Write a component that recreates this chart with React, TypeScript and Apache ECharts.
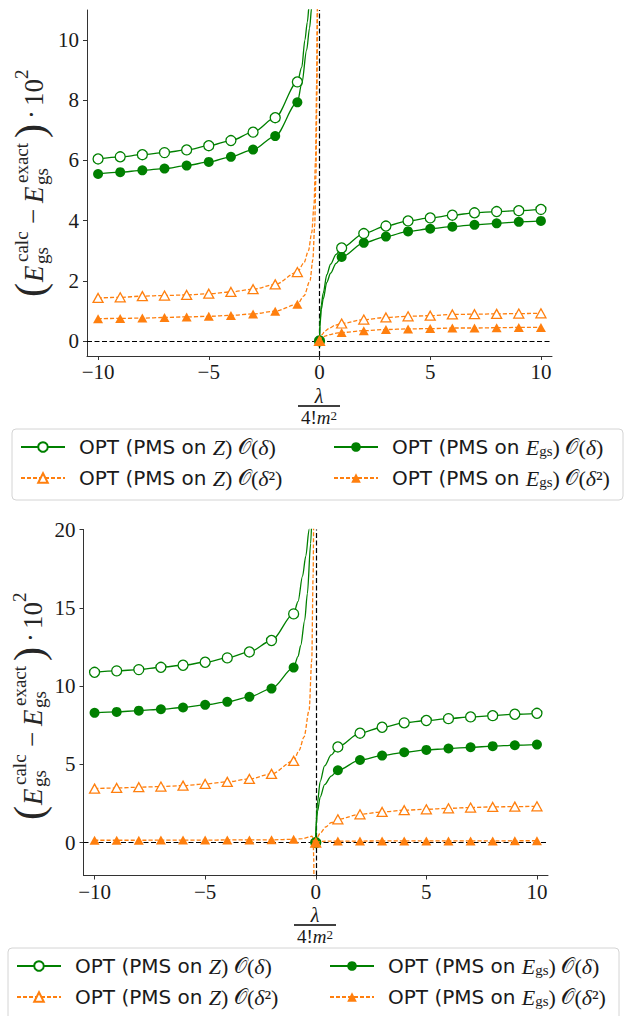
import { useEffect, useRef } from "react";
import * as echarts from "echarts";

const GREEN = "#008000";
const ORANGE = "#ff7f0e";
const INK = "#1a1a1a";
const SERIF = "'Liberation Serif', 'DejaVu Serif', serif";
const SANS = "'DejaVu Sans', 'Noto Sans', sans-serif";

// Series names (also the legend entries)
const NAMES = [
  "OPT (PMS on Z) 𝒪(δ)",
  "OPT (PMS on E_gs) 𝒪(δ)",
  "OPT (PMS on Z) 𝒪(δ²)",
  "OPT (PMS on E_gs) 𝒪(δ²)",
];

// Coupling values λ/(4!m²) where the markers sit
const lambdaNeg = [-10, -9, -8, -7, -6, -5, -4, -3, -2, -1];
const lambdaPos = [1, 2, 3, 4, 5, 6, 7, 8, 9, 10];
const lambdaTicks = [-10, -5, 0, 5, 10];
const topYTicks = [0, 2, 4, 6, 8, 10];
const bottomYTicks = [0, 5, 10, 15, 20];

// ---- upper panel: values at the markers ----
const topZ1Neg = [6.05, 6.12, 6.19, 6.26, 6.35, 6.49, 6.66, 6.94, 7.42, 8.61];
const topZ1Pos = [3.09, 3.57, 3.82, 3.99, 4.09, 4.18, 4.26, 4.3, 4.33, 4.37];
const topE1Neg = [5.55, 5.61, 5.67, 5.73, 5.83, 5.95, 6.12, 6.36, 6.81, 7.93];
const topE1Pos = [2.79, 3.26, 3.47, 3.64, 3.73, 3.8, 3.86, 3.91, 3.96, 3.99];
const topZ2Neg = [1.43, 1.45, 1.49, 1.51, 1.53, 1.57, 1.63, 1.72, 1.88, 2.29];
const topZ2Pos = [0.58, 0.71, 0.78, 0.82, 0.84, 0.88, 0.89, 0.9, 0.91, 0.92];
const topE2Neg = [0.74, 0.75, 0.76, 0.78, 0.8, 0.82, 0.85, 0.9, 0.99, 1.22];
const topE2Pos = [0.28, 0.34, 0.38, 0.4, 0.41, 0.43, 0.43, 0.44, 0.45, 0.45];

// upper panel: curve between λ=-1 and the pole at 0⁻
const topZ1Pole: [number, number][] = [[-0.8, 9.1], [-0.66, 10.0], [-0.55, 10.6], [-0.46, 11.2], [-0.38, 12.2], [-0.3, 14]];
const topE1Pole: [number, number][] = [[-0.8, 8.55], [-0.58, 9.67], [-0.45, 10.4], [-0.35, 11.1], [-0.27, 12.3], [-0.2, 14]];
const topZ2Pole: [number, number][] = [[-0.7, 2.6], [-0.5, 3.0], [-0.35, 3.6], [-0.25, 4.5], [-0.18, 6.0], [-0.13, 8.5], [-0.1, 11], [-0.08, 14]];
const topE2Pole: [number, number][] = [[-0.7, 1.5], [-0.43, 2.0], [-0.3, 2.7], [-0.22, 3.8], [-0.16, 5.5], [-0.12, 8], [-0.09, 11], [-0.07, 14]];
// upper panel: curve from the origin up to λ=1
const topZ1Rise: [number, number][] = [[0, 0], [0.02, 0.6], [0.08, 1.2], [0.17, 1.6], [0.33, 2.2], [0.5, 2.55], [0.75, 2.88]];
const topE1Rise: [number, number][] = [[0, 0], [0.02, 0.5], [0.08, 1.05], [0.17, 1.4], [0.33, 1.95], [0.5, 2.25], [0.75, 2.58]];
const topZ2Rise: [number, number][] = [[0, 0], [0.1, 0.2], [0.25, 0.33], [0.45, 0.43], [0.7, 0.52]];
const topE2Rise: [number, number][] = [[0, 0], [0.1, 0.1], [0.25, 0.16], [0.45, 0.21], [0.7, 0.25]];

// ---- lower panel: values at the markers ----
const botZ1Neg = [10.88, 10.97, 11.05, 11.2, 11.33, 11.52, 11.8, 12.18, 12.91, 14.61];
const botZ1Pos = [6.11, 6.99, 7.37, 7.65, 7.8, 7.92, 8.03, 8.11, 8.2, 8.26];
const botE1Neg = [8.29, 8.35, 8.43, 8.52, 8.63, 8.8, 8.99, 9.31, 9.84, 11.18];
const botE1Pos = [4.62, 5.28, 5.56, 5.77, 5.92, 6.01, 6.09, 6.16, 6.22, 6.26];
const botZ2Neg = [3.45, 3.49, 3.54, 3.58, 3.64, 3.75, 3.88, 4.07, 4.39, 5.22];
const botZ2Pos = [1.49, 1.81, 1.96, 2.07, 2.13, 2.19, 2.24, 2.28, 2.3, 2.32];
const botE2Neg = [0.15, 0.15, 0.15, 0.16, 0.16, 0.16, 0.17, 0.17, 0.18, 0.21];
const botE2Pos = [0.1, 0.1, 0.11, 0.11, 0.11, 0.11, 0.11, 0.11, 0.12, 0.12];

// lower panel: curve between λ=-1 and the pole at 0⁻
const botZ1Pole: [number, number][] = [[-0.8, 15.4], [-0.6, 17.0], [-0.45, 18.3], [-0.3, 20.0], [-0.2, 23]];
const botE1Pole: [number, number][] = [[-0.8, 11.9], [-0.68, 12.6], [-0.5, 14.2], [-0.38, 15.9], [-0.23, 19.1], [-0.15, 22]];
const botZ2Pole: [number, number][] = [[-0.75, 5.9], [-0.53, 6.75], [-0.3, 8.46], [-0.18, 11.65], [-0.12, 17], [-0.09, 22]];
const botE2Pole: [number, number][] = [[-0.6, 0.25], [-0.3, 0.35], [-0.18, 0.42], [-0.12, 0.3], [-0.09, -1], [-0.08, -3]];
// lower panel: curve from the origin up to λ=1
const botZ1Rise: [number, number][] = [[0, 0], [0.02, 1.5], [0.08, 2.6], [0.2, 3.9], [0.4, 4.9], [0.7, 5.6]];
const botE1Rise: [number, number][] = [[0, 0], [0.02, 1.1], [0.08, 2.0], [0.2, 2.9], [0.4, 3.7], [0.7, 4.25]];
const botZ2Rise: [number, number][] = [[0, 0], [0.05, 0.3], [0.2, 0.6], [0.45, 1.0], [0.7, 1.28]];
const botE2Rise: [number, number][] = [[0, 0], [0.3, 0.08], [0.6, 0.1]];

const zip = (xs: number[], ys: number[]): [number, number][] => xs.map((x, i) => [x, ys[i]]);

const STYLES = [
  { color: GREEN, dashed: false, symbol: "circle", hollow: true },
  { color: GREEN, dashed: false, symbol: "circle", hollow: false },
  { color: ORANGE, dashed: true, symbol: "triangle", hollow: true },
  { color: ORANGE, dashed: true, symbol: "triangle", hollow: false },
];

const panelCurves = [
  [
    [zip(lambdaNeg, topZ1Neg).concat(topZ1Pole), topZ1Rise.concat(zip(lambdaPos, topZ1Pos))],
    [zip(lambdaNeg, topE1Neg).concat(topE1Pole), topE1Rise.concat(zip(lambdaPos, topE1Pos))],
    [zip(lambdaNeg, topZ2Neg).concat(topZ2Pole), topZ2Rise.concat(zip(lambdaPos, topZ2Pos))],
    [zip(lambdaNeg, topE2Neg).concat(topE2Pole), topE2Rise.concat(zip(lambdaPos, topE2Pos))],
  ],
  [
    [zip(lambdaNeg, botZ1Neg).concat(botZ1Pole), botZ1Rise.concat(zip(lambdaPos, botZ1Pos))],
    [zip(lambdaNeg, botE1Neg).concat(botE1Pole), botE1Rise.concat(zip(lambdaPos, botE1Pos))],
    [zip(lambdaNeg, botZ2Neg).concat(botZ2Pole), botZ2Rise.concat(zip(lambdaPos, botZ2Pos))],
    [zip(lambdaNeg, botE2Neg).concat(botE2Pole), botE2Rise.concat(zip(lambdaPos, botE2Pos))],
  ],
];

// Panel geometry
const PANELS = [
  {
    grid: { left: 87, top: 10, width: 465, height: 346 },
    yMin: -0.5, yMax: 11, yTicks: topYTicks,
    yLabel: { x: 34, y: 297 },
    frac: { cx: 319, lam: 396, bar: 406, den: 417 },
    box: { x: 12, y: 429, w: 611, h: 71 },
    cols: [20, 333], rows: [449, 480],
  },
  {
    grid: { left: 83.5, top: 529.5, width: 464.5, height: 346 },
    yMin: -2.1, yMax: 20, yTicks: bottomYTicks,
    yLabel: { x: 32.5, y: 820 },
    frac: { cx: 315, lam: 915, bar: 925, den: 936 },
    box: { x: 8, y: 948, w: 611, h: 80 },
    cols: [16, 329], rows: [968, 999],
  },
];

const minus = (v: number) => (v < 0 ? "\u2212" + Math.abs(v) : String(v));

const LEGEND_RICH = {
  t: { fontFamily: SANS, fontSize: 20, color: INK },
  m: { fontFamily: SERIF, fontStyle: "italic", fontSize: 22, color: INK },
  r: { fontFamily: SERIF, fontSize: 22, color: INK },
  c: { fontFamily: SANS, fontSize: 21, color: INK },
  sub: { fontFamily: SERIF, fontSize: 15, color: INK, verticalAlign: "bottom", lineHeight: 10 },
};
const LEGEND_TEXT: Record<string, string> = {
  [NAMES[0]]: "{t|OPT (PMS on }{m|Z}{r|) }{c|𝒪}{r|(}{m|δ}{r|)}",
  [NAMES[1]]: "{t|OPT (PMS on }{m|E}{sub|gs}{r|) }{c|𝒪}{r|(}{m|δ}{r|)}",
  [NAMES[2]]: "{t|OPT (PMS on }{m|Z}{r|) }{c|𝒪}{r|(}{m|δ}{r|²)}",
  [NAMES[3]]: "{t|OPT (PMS on }{m|E}{sub|gs}{r|) }{c|𝒪}{r|(}{m|δ}{r|²)}",
};

// Pieces of the rotated y-axis title: offset along the text, offset across it
const Y_TITLE = [
  { t: "(", a: 0, b: -4, s: 42, it: false },
  { t: "E", a: 15, b: 0, s: 27, it: true },
  { t: "calc", a: 35, b: -13, s: 19, it: false },
  { t: "gs", a: 33, b: 7, s: 19, it: false },
  { t: "\u2212", a: 73, b: -1, s: 27, it: false },
  { t: "E", a: 94, b: 0, s: 27, it: true },
  { t: "exact", a: 114, b: -13, s: 19, it: false },
  { t: "gs", a: 112, b: 7, s: 19, it: false },
  { t: ")", a: 159, b: -4, s: 42, it: false },
  { t: "\u00b7", a: 178, b: -2, s: 27, it: false },
  { t: "10", a: 191, b: 0, s: 27, it: false },
  { t: "2", a: 218, b: -13, s: 19, it: false },
];

function buildOption() {
  const series: any[] = [];
  PANELS.forEach((p, pi) => {
    panelCurves[pi].forEach((branches, ci) => {
      const st = STYLES[ci];
      branches.forEach((pts, bi) => {
        series.push({
          type: "line",
          name: NAMES[ci],
          xAxisIndex: pi,
          yAxisIndex: pi,
          data: pts.map(([x, y]) => (Number.isInteger(x) ? [x, y] : { value: [x, y], symbol: "none" })),
          smooth: 0.3,
          smoothMonotone: "x",
          showSymbol: true,
          showAllSymbol: true,
          symbol: st.symbol,
          symbolSize: st.symbol === "circle" ? 10 : [10, 9],
          lineStyle: { color: st.color, width: 1.3, type: st.dashed ? [4, 2] : "solid" },
          itemStyle: {
            color: st.hollow ? "#ffffff" : st.color,
            borderColor: st.color,
            borderWidth: st.hollow ? 1.3 : 0,
          },
          emphasis: { disabled: true },
          clip: true,
          z: 3 + ci,
          ...(ci === 0 && bi === 0
            ? {
                markLine: {
                  silent: true,
                  symbol: "none",
                  label: { show: false },
                  lineStyle: { color: "#000", width: 1.2, type: [5, 2.5] },
                  data: [{ yAxis: 0 }, { xAxis: 0 }],
                  z: 1,
                },
              }
            : {}),
        });
      });
    });
  });

  const axisLine = { lineStyle: { color: "#333", width: 1 } };
  const tickLabel = { fontFamily: SERIF, fontSize: 21, lineHeight: 20, color: INK };

  const graphic: any[] = [];
  PANELS.forEach((p) => {
    graphic.push({
      type: "rect",
      z: 0,
      shape: { x: p.box.x, y: p.box.y, width: p.box.w, height: p.box.h, r: 4 },
      style: { fill: "rgba(255,255,255,0.8)", stroke: "#d4d4d4", lineWidth: 1 },
    });
    graphic.push({
      type: "group",
      x: p.yLabel.x,
      y: p.yLabel.y,
      rotation: Math.PI / 2,
      children: Y_TITLE.map((e) => ({
        type: "text",
        x: e.a,
        y: e.b,
        style: {
          text: e.t,
          fontFamily: SERIF,
          fontSize: e.s,
          fontStyle: e.it ? "italic" : "normal",
          fill: "#262626",
          align: "left",
          verticalAlign: "middle",
          textAlign: "left",
          textVerticalAlign: "middle",
        },
      })),
    });
    graphic.push({
      type: "text",
      x: p.frac.cx,
      y: p.frac.lam,
      style: {
        text: "λ",
        fontFamily: SERIF,
        fontStyle: "italic",
        fontSize: 20,
        lineHeight: 17,
        fill: INK,
        align: "center",
        verticalAlign: "middle",
        textAlign: "center",
        textVerticalAlign: "middle",
      },
    });
    graphic.push({
      type: "line",
      shape: { x1: p.frac.cx - 21, y1: p.frac.bar, x2: p.frac.cx + 21, y2: p.frac.bar },
      style: { stroke: "#000", lineWidth: 1.4 },
    });
    graphic.push({
      type: "text",
      x: p.frac.cx,
      y: p.frac.den,
      style: {
        text: "{r|4!}{i|m}{s|2}",
        rich: {
          r: { fontFamily: SERIF, fontSize: 19, lineHeight: 16, fill: INK, color: INK },
          i: { fontFamily: SERIF, fontStyle: "italic", fontSize: 19, lineHeight: 16, fill: INK, color: INK },
          s: { fontFamily: SERIF, fontSize: 13, fill: INK, color: INK, verticalAlign: "top", lineHeight: 11 },
        },
        align: "center",
        verticalAlign: "middle",
        textAlign: "center",
        textVerticalAlign: "middle",
      },
    });
  });

  const legend: any[] = [];
  PANELS.forEach((p) => {
    NAMES.forEach((n, i) => {
      legend.push({
        data: [n],
        left: p.cols[i % 2],
        top: p.rows[Math.floor(i / 2)] - 13,
        padding: 0,
        itemWidth: 44,
        itemHeight: 12,
        selectedMode: false,
        formatter: (name: string) => LEGEND_TEXT[name],
        textStyle: { padding: [0, 0, 0, 9], rich: LEGEND_RICH },
        z: 5,
      });
    });
  });

  return {
    animation: false,
    backgroundColor: "#ffffff",
    grid: PANELS.map((p) => ({ ...p.grid, containLabel: false })),
    xAxis: PANELS.map((p, i) => ({
      type: "value",
      gridIndex: i,
      min: -10.5,
      max: 10.5,
      splitLine: { show: false },
      axisLine: { ...axisLine, onZero: false },
      axisTick: { show: true, length: 4, customValues: lambdaTicks, lineStyle: { color: "#333" } },
      axisLabel: { ...tickLabel, customValues: lambdaTicks, formatter: minus, margin: 6 },
    })),
    yAxis: PANELS.map((p, i) => ({
      type: "value",
      gridIndex: i,
      min: p.yMin,
      max: p.yMax,
      splitLine: { show: false },
      axisLine: { ...axisLine, onZero: false },
      axisTick: { show: true, length: 4, customValues: p.yTicks, lineStyle: { color: "#333" } },
      axisLabel: { ...tickLabel, customValues: p.yTicks, formatter: minus, margin: 8 },
    })),
    legend,
    graphic,
    series,
  };
}

export default function App() {
  const ref = useRef<HTMLDivElement>(null);
  useEffect(() => {
    document.body.style.margin = "0";
    if (!ref.current) return;
    const chart = echarts.init(ref.current, null, { renderer: "svg" });
    chart.setOption(buildOption() as any);
    return () => chart.dispose();
  }, []);
  return <div ref={ref} style={{ width: 627, height: 1016 }} />;
}
